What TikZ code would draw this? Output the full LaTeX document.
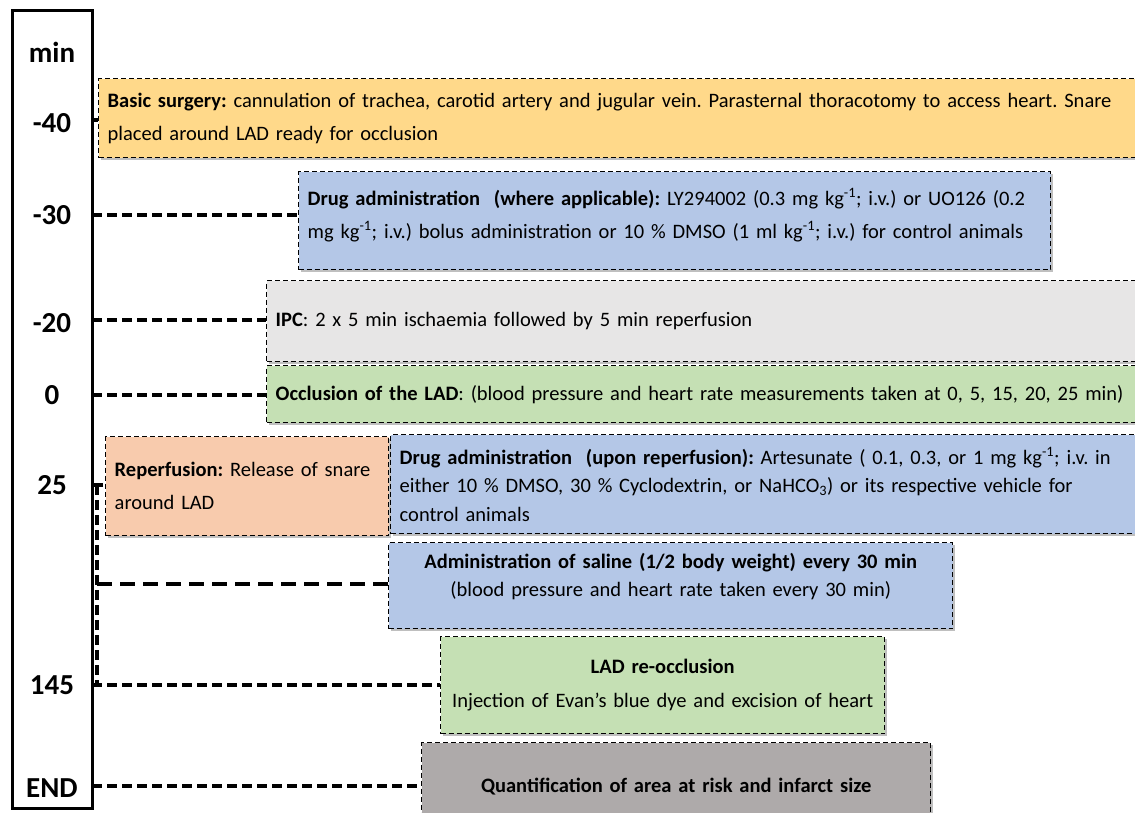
\documentclass[tikz,border=0pt]{standalone}
\usepackage{fontspec}
\setmainfont{Carlito}
\usetikzlibrary{shadows}
\definecolor{amarillo}{HTML}{FFD98A}
\definecolor{azul}{HTML}{B4C7E7}
\definecolor{grisclaro}{HTML}{E7E6E6}
\definecolor{verde}{HTML}{C5E0B4}
\definecolor{naranja}{HTML}{F8CBAD}
\definecolor{grisoscuro}{HTML}{AEAAAA}
\frenchspacing
\begin{document}
\begin{tikzpicture}[x=1pt,y=-1pt,
  caja/.style={draw=black, line width=1.4pt, dash pattern=on 5pt off 3pt,
    inner xsep=9pt, inner ysep=0pt, anchor=north west, align=left,
    font=\fontsize{20.5}{33}\selectfont,
    drop shadow={shadow xshift=2pt, shadow yshift=-2pt, opacity=0.25, fill=black}},
  enlace/.style={line width=3.4pt, dash pattern=on 10pt off 5pt},
  tiempo/.style={font=\bfseries\fontsize{29}{29}\selectfont}]
  \useasboundingbox (0,0) rectangle (1135,812);
  % Eje de tiempo
  \draw[line width=3pt] (12,10) rectangle (92,808);
  \node[tiempo] (tmin) at (52,52) {min};
  \node[tiempo] (t40) at (52,123) {-40};
  \node[tiempo] (t30) at (52,215) {-30};
  \node[tiempo] (t20) at (52,323) {-20};
  \node[tiempo] (t0) at (52,395) {0};
  \node[tiempo] (t25) at (52,485) {25};
  \node[tiempo] (t145) at (52,685) {145};
  \node[tiempo] (tend) at (52,788) {END};
  % Puntos sobre el eje
  \coordinate (e40) at (92,120);
  \coordinate (e30) at (92,215);
  \coordinate (e20) at (92,320);
  \coordinate (e0) at (92,395);
  \coordinate (e25) at (92,485);
  \coordinate (e145) at (92,685);
  \coordinate (eend) at (92,786);
  \coordinate (v25) at (97,485);
  \coordinate (vsal) at (97,584);
  \coordinate (v145) at (97,685);
  % Cajas de las fases
  \node[caja, fill=amarillo, minimum width=1062pt, minimum height=79pt,
    text width=1044pt] (cirugia) at (98,78)
    {\textbf{Basic surgery:} cannulation of trachea, carotid artery and jugular vein. Parasternal thoracotomy to access heart. Snare\\
     placed around LAD ready for occlusion};
  \node[caja, fill=azul, minimum width=752pt, minimum height=98pt,
    text width=734pt, text depth=48pt] (farmaco) at (298,171)
    {\textbf{Drug administration\ \ (where applicable):} LY294002 (0.3 mg kg\textsuperscript{-1}; i.v.) or UO126 (0.2\\
     mg kg\textsuperscript{-1}; i.v.) bolus administration or 10 \% DMSO (1 ml kg\textsuperscript{-1}; i.v.) for control animals};
  \node[caja, fill=grisclaro, minimum width=894pt, minimum height=81pt,
    text width=876pt] (ipc) at (266,280)
    {\textbf{IPC}: 2 x 5 min ischaemia followed by 5 min reperfusion};
  \node[caja, fill=verde, minimum width=894pt, minimum height=57pt,
    text width=876pt] (oclusion) at (266,365)
    {\textbf{Occlusion of the LAD}: (blood pressure and heart rate measurements taken at 0, 5, 15, 20, 25 min)};
  \node[caja, fill=naranja, minimum width=283pt, minimum height=99pt,
    text width=265pt] (reperf) at (105,436)
    {\textbf{Reperfusion:} Release of snare\\ around LAD};
  \node[caja, fill=azul, minimum width=770pt, minimum height=99pt,
    text width=752pt, font=\fontsize{20.5}{28.5}\selectfont] (artesunato) at (390,434)
    {\textbf{Drug administration\ \ (upon reperfusion):} Artesunate ( 0.1, 0.3, or 1 mg kg\textsuperscript{-1}; i.v. in\\
     either 10 \% DMSO, 30 \% Cyclodextrin, or NaHCO\textsubscript{3}) or its respective vehicle for\\
     control animals};
  \node[caja, fill=azul, minimum width=564pt, minimum height=86pt,
    text width=546pt, text depth=49pt, align=center, font=\fontsize{20.5}{28}\selectfont] (salino) at (388,542)
    {\textbf{Administration of saline (1/2 body weight) every 30 min}\\
     (blood pressure and heart rate taken every 30 min)};
  \node[caja, fill=verde, minimum width=444pt, minimum height=97pt,
    inner xsep=2pt, text width=440pt, align=center, font=\fontsize{20.5}{34}\selectfont] (reoclusion) at (440,636)
    {\textbf{LAD re-occlusion}\\
     Injection of Evan’s blue dye and excision of heart};
  \node[caja, fill=grisoscuro, minimum width=509pt, minimum height=88pt,
    text width=491pt, align=center] (cuantif) at (421,742)
    {\textbf{Quantification of area at risk and infarct size}};
  % Enlaces con el eje
  \draw[line width=3.4pt] (e40) -- (e40 -| cirugia.west);
  \draw[enlace] (e30) -- (e30 -| farmaco.west);
  \draw[enlace] (e20) -- (e20 -| ipc.west);
  \draw[enlace] (e0) -- (e0 -| oclusion.west);
  \draw[line width=3.4pt] (e25) -- ++(11,0);
  \draw[enlace] (v25) -- (v145);
  \draw[line width=3.4pt, dash pattern=on 15pt off 8pt] (vsal) -- (vsal -| salino.west);
  \draw[enlace] (e145) -- (e145 -| reoclusion.west);
  \draw[enlace] (eend) -- (eend -| cuantif.west);
\end{tikzpicture}
\end{document}
